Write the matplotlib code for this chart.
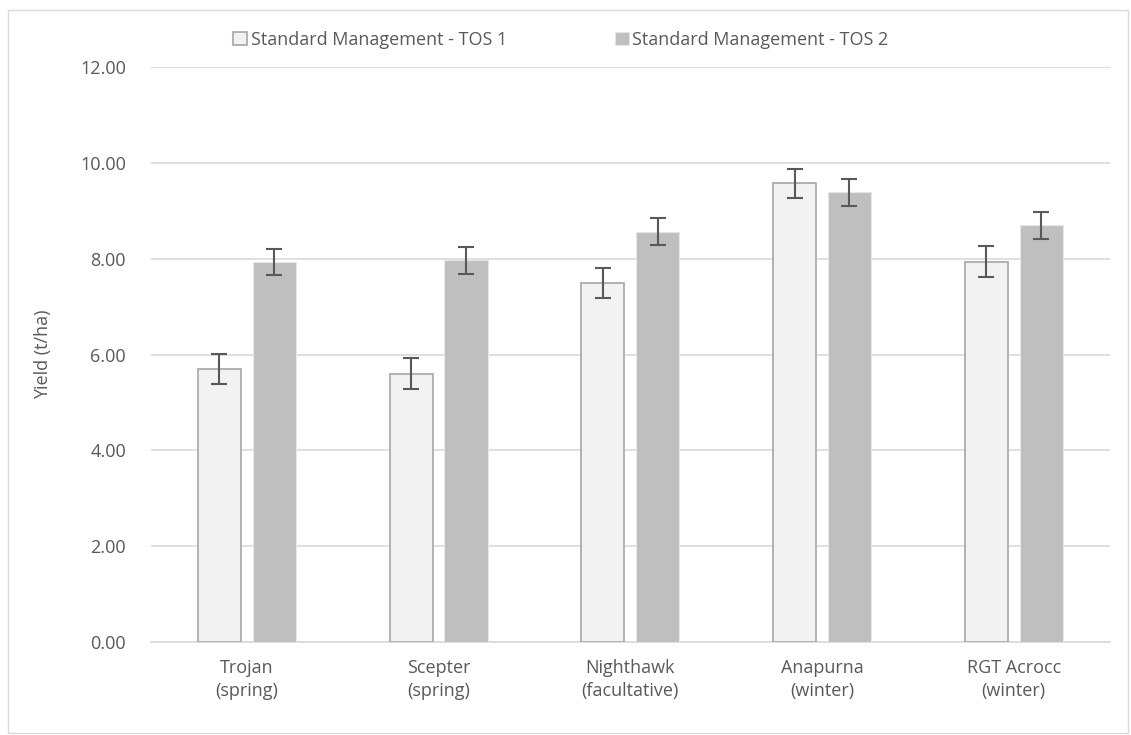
import matplotlib.pyplot as plt
import numpy as np
from matplotlib.patches import Rectangle

categories = ["Trojan\n(spring)", "Scepter\n(spring)", "Nighthawk\n(facultative)",
              "Anapurna\n(winter)", "RGT Acrocc\n(winter)"]
tos1 = [5.70, 5.60, 7.49, 9.57, 7.94]
tos2 = [7.93, 7.97, 8.56, 9.39, 8.70]
tos1_err = [0.32, 0.32, 0.32, 0.31, 0.32]
tos2_err = [0.28, 0.28, 0.28, 0.28, 0.28]
labels = ["Standard Management - TOS 1", "Standard Management - TOS 2"]

plt.rcParams['font.family'] = ['Open Sans', 'DejaVu Sans']
txt = '#595959'
fs = 13

fig = plt.figure(figsize=(11.31, 7.35), dpi=100)
ax = fig.add_axes([0.1335, 0.1265, 0.8475, 0.7823])

x = np.arange(len(categories))
w = 0.225
off = 0.143
ax.bar(x - off, tos1, w, color='#F2F2F2', edgecolor='#AFABAB', linewidth=1.3,
       label=labels[0], zorder=3)
ax.bar(x + off, tos2, w, color='#BFBFBF', edgecolor='#E6E6E6', linewidth=0.8,
       label=labels[1], zorder=3)
ax.errorbar(x - off, tos1, yerr=tos1_err, fmt='none', ecolor=txt, elinewidth=1.5,
            capsize=6, capthick=1.5, zorder=4)
ax.errorbar(x + off, tos2, yerr=tos2_err, fmt='none', ecolor=txt, elinewidth=1.5,
            capsize=6, capthick=1.5, zorder=4)

ax.set_xlim(-0.5, len(categories) - 0.5)
ax.set_ylim(0, 12)
ax.set_yticks(np.arange(0, 12.1, 2))
ax.set_yticklabels([f"{v:.2f}" for v in np.arange(0, 12.1, 2)])
ax.set_xticks(x)
ax.set_xticklabels(categories, linespacing=1.35)
ax.tick_params(length=0, labelsize=fs, labelcolor=txt, pad=12)
ax.tick_params(axis='y', pad=18)
ax.grid(axis='y', color='#D9D9D9', linewidth=1.2, zorder=0)
for s in ['top', 'right', 'left']:
    ax.spines[s].set_visible(False)
ax.spines['bottom'].set_color('#D9D9D9')
ax.spines['bottom'].set_linewidth(1.2)
ax.set_ylabel("Yield (t/ha)", fontsize=fs, color=txt, labelpad=20)

leg = fig.legend(loc='center', bbox_to_anchor=(0.496, 0.946), ncol=2, frameon=False,
                 fontsize=fs, handlelength=0.75, handleheight=0.75, handletextpad=0.2,
                 columnspacing=6.0)
for t in leg.get_texts():
    t.set_color(txt)

fig.patches.append(Rectangle((0.007, 0.003), 0.99, 0.984, transform=fig.transFigure,
                             fill=False, edgecolor='#D9D9D9', linewidth=1))

fig.savefig("out.png", dpi=100)
